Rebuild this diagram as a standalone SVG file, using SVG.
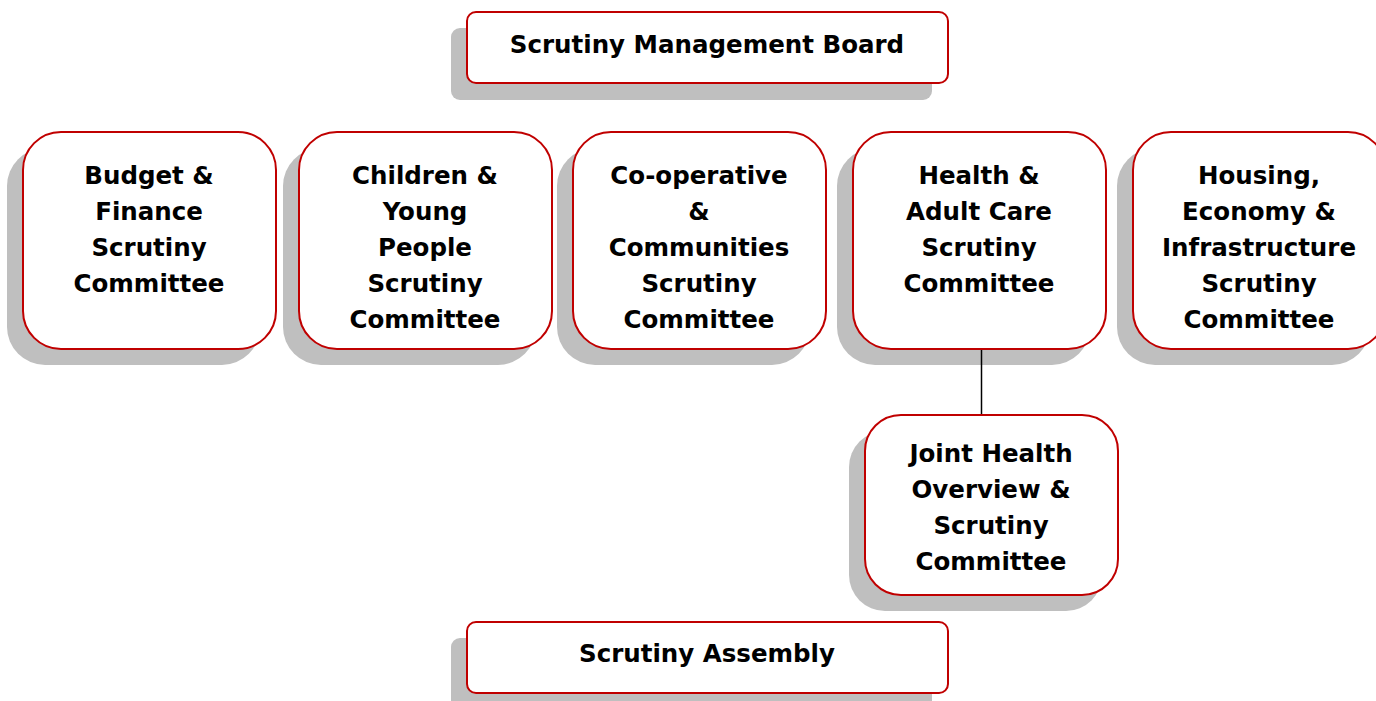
<svg xmlns="http://www.w3.org/2000/svg" width="1376" height="701" viewBox="0 0 1376 701">
<style>
.bg{fill:#fff}
.sh{fill:#bfbfbf}
.bx{fill:#fff;stroke:#c00000;stroke-width:2}
.t{font-family:"DejaVu Sans","Liberation Sans",sans-serif;font-weight:bold;font-size:24.5px;fill:#000;text-anchor:middle}
.cn{stroke:#000;stroke-width:1.5;fill:none}
</style>
<rect class="bg" width="1376" height="701"/>
<g id="smb">
<rect class="sh" x="451" y="28" width="481" height="72" rx="9"/>
<rect class="bx" x="467" y="12" width="481" height="71" rx="9"/>
<text class="t" x="707" y="53">Scrutiny Management Board</text>
</g>
<g id="budget">
<rect class="sh" x="7" y="148" width="253" height="217" rx="38"/>
<rect class="bx" x="23" y="132" width="253" height="217" rx="38"/>
<text class="t" x="149" y="184">Budget &amp;<tspan x="149" dy="36">Finance</tspan><tspan x="149" dy="36">Scrutiny</tspan><tspan x="149" dy="36">Committee</tspan></text>
</g>
<g id="children">
<rect class="sh" x="283" y="148" width="253" height="217" rx="38"/>
<rect class="bx" x="299" y="132" width="253" height="217" rx="38"/>
<text class="t" x="425" y="184">Children &amp;<tspan x="425" dy="36">Young</tspan><tspan x="425" dy="36">People</tspan><tspan x="425" dy="36">Scrutiny</tspan><tspan x="425" dy="36">Committee</tspan></text>
</g>
<g id="coop">
<rect class="sh" x="557" y="148" width="253" height="217" rx="38"/>
<rect class="bx" x="573" y="132" width="253" height="217" rx="38"/>
<text class="t" x="699" y="184">Co-operative<tspan x="699" dy="36">&amp;</tspan><tspan x="699" dy="36">Communities</tspan><tspan x="699" dy="36">Scrutiny</tspan><tspan x="699" dy="36">Committee</tspan></text>
</g>
<g id="health">
<rect class="sh" x="837" y="148" width="253" height="217" rx="38"/>
<rect class="bx" x="853" y="132" width="253" height="217" rx="38"/>
<text class="t" x="979" y="184">Health &amp;<tspan x="979" dy="36">Adult Care</tspan><tspan x="979" dy="36">Scrutiny</tspan><tspan x="979" dy="36">Committee</tspan></text>
</g>
<g id="housing">
<rect class="sh" x="1117" y="148" width="253" height="217" rx="38"/>
<rect class="bx" x="1133" y="132" width="253" height="217" rx="38"/>
<text class="t" x="1259" y="184">Housing,<tspan x="1259" dy="36">Economy &amp;</tspan><tspan x="1259" dy="36">Infrastructure</tspan><tspan x="1259" dy="36">Scrutiny</tspan><tspan x="1259" dy="36">Committee</tspan></text>
</g>
<g id="joint">
<rect class="sh" x="849" y="431" width="253" height="180" rx="36"/>
<rect class="bx" x="865" y="415" width="253" height="180" rx="36"/>
<text class="t" x="991" y="462">Joint Health<tspan x="991" dy="36">Overview &amp;</tspan><tspan x="991" dy="36">Scrutiny</tspan><tspan x="991" dy="36">Committee</tspan></text>
</g>
<g id="assembly">
<rect class="sh" x="451" y="638" width="481" height="72" rx="9"/>
<rect class="bx" x="467" y="622" width="481" height="71" rx="9"/>
<text class="t" x="707" y="662">Scrutiny Assembly</text>
</g>
<g id="connectors">
<line class="cn" x1="981.5" y1="350" x2="981.5" y2="414"/>
</g>
</svg>
